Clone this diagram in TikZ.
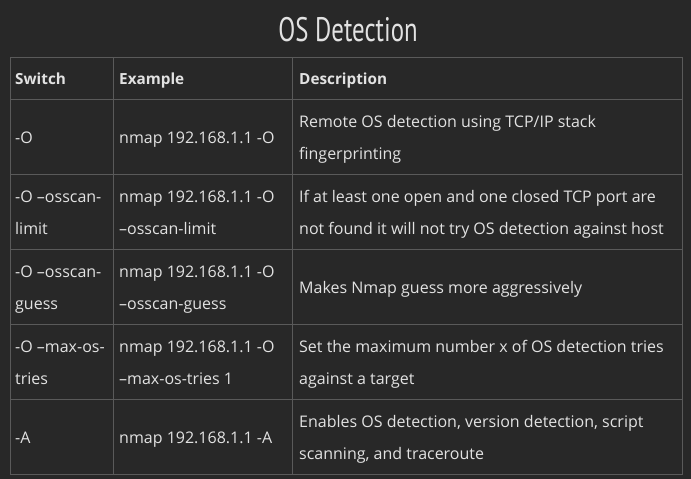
\documentclass[tikz,border=0pt]{standalone}
\usepackage{fontspec}
\setmainfont{Open Sans}
\newfontfamily\titlefont{PT Sans}
\definecolor{bgdark}{HTML}{282828}
\definecolor{gridgray}{HTML}{5A5A5A}
\definecolor{cellfg}{HTML}{E2E2E2}
\tikzset{
  cell/.style={anchor=base west, inner sep=0pt, text=cellfg, font=\fontsize{16}{31.5}\selectfont, align=left},
  headcell/.style={cell, font=\fontsize{15.3}{31.5}\selectfont\bfseries},
  grid/.style={draw=gridgray, line width=1pt}
}
\begin{document}
\begin{tikzpicture}[x=1pt, y=-1pt]
    \fill[bgdark] (0,0) rectangle (691,479);
    \useasboundingbox (0,0) rectangle (691,479);
	\node[inner sep=0pt, anchor=base, text=cellfg] (title) at (348, 41)
	  {\scalebox{0.73}[1]{\titlefont\fontsize{34}{34}\selectfont OS Detection}};
	% table frame and rules
	\draw[grid] (10, 57) rectangle (682, 474);
	\draw[grid] (10, 99) -- (682, 99);
	\draw[grid] (10, 174) -- (682, 174);
	\draw[grid] (10, 249) -- (682, 249);
	\draw[grid] (10, 324) -- (682, 324);
	\draw[grid] (10, 399) -- (682, 399);
	\draw[grid] (113, 57) -- (113, 474);
	\draw[grid] (292, 57) -- (292, 474);
	% header
	\node[headcell] (hswitch) at (15, 84) {Switch};
	\node[headcell] (hexample) at (119, 84) {Example};
	\node[headcell] (hdesc) at (299, 84) {Description};
	% row 1 (two-line cells sit on their last line)
	\node[cell] (sw1) at (15, 143) {-O};
	\node[cell] (ex1) at (119, 143) {nmap 192.168.1.1 -O};
	\node[cell] (de1) at (299, 159) {Remote OS detection using TCP/IP stack\\fingerprinting};
	% row 2
	\node[cell] (sw2) at (15, 234) {-O –osscan-\\limit};
	\node[cell] (ex2) at (119, 234) {nmap 192.168.1.1 -O\\–osscan-limit};
	\node[cell] (de2) at (299, 234) {If at least one open and one closed TCP port are\\not found it will not try OS detection against host};
	% row 3
	\node[cell] (sw3) at (15, 309) {-O –osscan-\\guess};
	\node[cell] (ex3) at (119, 309) {nmap 192.168.1.1 -O\\–osscan-guess};
	\node[cell] (de3) at (299, 293) {Makes Nmap guess more aggressively};
	% row 4
	\node[cell] (sw4) at (15, 384) {-O –max-os-\\tries};
	\node[cell] (ex4) at (119, 384) {nmap 192.168.1.1 -O\\–max-os-tries 1};
	\node[cell] (de4) at (299, 384) {Set the maximum number x of OS detection tries\\against a target};
	% row 5
	\node[cell] (sw5) at (15, 443) {-A};
	\node[cell] (ex5) at (119, 443) {nmap 192.168.1.1 -A};
	\node[cell] (de5) at (299, 459) {Enables OS detection, version detection, script\\scanning, and traceroute};
\end{tikzpicture}
\end{document}
